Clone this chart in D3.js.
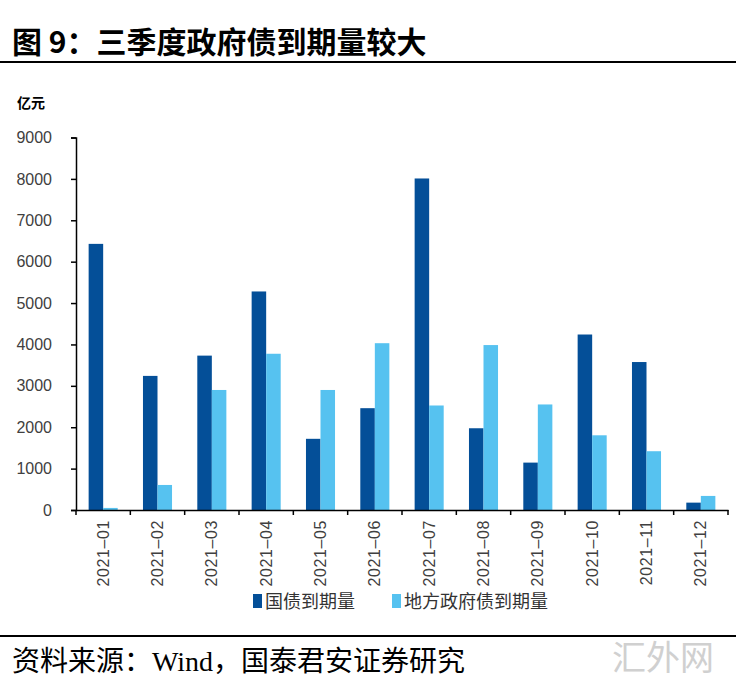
<!DOCTYPE html>
<html><head><meta charset="utf-8">
<script src="https://cdn.jsdelivr.net/npm/d3@7"></script>
<style>
body{margin:0;background:#fff;}
svg{display:block;}
</style></head>
<body>
<svg id="chart" width="740" height="688"></svg>
<script>
const months = ["2021-01","2021-02","2021-03","2021-04","2021-05","2021-06","2021-07","2021-08","2021-09","2021-10","2021-11","2021-12"];
const seriesNames = ["国债到期量","地方政府债到期量"];
const treasury = [6430, 3240, 3730, 5280, 1720, 2460, 8010, 1975, 1145, 4240, 3575, 178];
const localGov = [50, 605, 2900, 3775, 2900, 4030, 2525, 3985, 2550, 1805, 1420, 340];
const yTicks = [0,1000,2000,3000,4000,5000,6000,7000,8000,9000];
const colors = ["#044f98", "#56c2f0"];

const svg = d3.select("#chart");
const cjk = "'Noto Sans CJK SC', sans-serif";

// title
svg.append("text").attr("x", 12).attr("y", 53)
  .style("font-family", cjk).style("font-weight", "bold").style("font-size", "30px").attr("fill", "#000")
  .text("图 9：三季度政府债到期量较大");
svg.append("line").attr("x1", 0).attr("x2", 736).attr("y1", 62).attr("y2", 62)
  .attr("stroke", "#000").attr("stroke-width", 2);

// unit
svg.append("text").attr("x", 17).attr("y", 108)
  .style("font-family", cjk).style("font-weight", "bold").style("font-size", "14px").text("亿元");

const x0 = 76, x1 = 728, yTop = 137.5, yBase = 510;
const x = d3.scaleBand().domain(months).range([x0, x1]).paddingInner(0).paddingOuter(0);
const xs = d3.scaleBand().domain([0,1]).range([0, x.bandwidth()]).paddingInner(0).paddingOuter(0.87);
const y = d3.scaleLinear().domain([0, 9000]).range([yBase, yTop]);

const data = [treasury, localGov];
data.forEach((vals, si) => {
  svg.append("g").selectAll("rect").data(vals).join("rect")
    .attr("x", (d,i) => x(months[i]) + xs(si))
    .attr("width", xs.bandwidth())
    .attr("y", d => y(d))
    .attr("height", d => yBase - y(d))
    .attr("fill", colors[si]);
});

// y axis
const yAxis = svg.append("g").attr("transform", `translate(${x0},0)`)
  .call(d3.axisLeft(y).tickValues(yTicks).tickSize(5).tickPadding(19).tickFormat(d3.format("d")));
yAxis.select(".domain").attr("stroke", "#000").attr("stroke-width", 1.5);
yAxis.selectAll(".tick line").attr("stroke", "#000").attr("stroke-width", 1.5);
yAxis.selectAll("text").style("font-family", "Arial, 'Liberation Sans', sans-serif").style("font-size", "16px").attr("fill", "#404040");

// x axis
const xAxis = svg.append("g").attr("transform", `translate(0,${yBase})`)
  .call(d3.axisBottom(x).tickSize(0).tickPadding(0).tickSizeOuter(0).tickFormat(d => d.replace("-", "\u2013")));
xAxis.select(".domain").attr("stroke", "#000").attr("stroke-width", 1.5);
xAxis.selectAll(".tick text")
  .attr("transform", "translate(0,10) rotate(-90)")
  .attr("text-anchor", "end").attr("dy", "0.35em").attr("x", 0).attr("y", 0)
  .style("font-family", "Arial, 'Liberation Sans', sans-serif").style("font-size", "16px")
  .style("letter-spacing", "0.6px").attr("fill", "#404040");
// boundary ticks
const bounds = months.map(m => x(m)).concat([x1]);
svg.append("g").selectAll("line").data(bounds).join("line")
  .attr("x1", d => d).attr("x2", d => d).attr("y1", yBase).attr("y2", yBase + 5)
  .attr("stroke", "#000").attr("stroke-width", 1.5);

// legend
const legendX = [253, 392];
seriesNames.forEach((name, i) => {
  svg.append("rect").attr("x", legendX[i]).attr("y", 594).attr("width", 9).attr("height", 14).attr("fill", colors[i]);
  svg.append("text").attr("x", legendX[i] + 12).attr("y", 608)
    .style("font-family", cjk).style("font-size", "18px").attr("fill", "#333").text(name);
});

// footer
svg.append("line").attr("x1", 0).attr("x2", 736).attr("y1", 636).attr("y2", 636)
  .attr("stroke", "#000").attr("stroke-width", 2);
svg.append("text").attr("x", 12).attr("y", 671)
  .style("font-family", "'Liberation Serif', " + cjk).style("font-size", "28px").attr("fill", "#000")
  .text("资料来源：Wind，国泰君安证券研究");
svg.append("text").attr("x", 612).attr("y", 670)
  .style("font-family", cjk).style("font-size", "34px").attr("fill", "#d0d0d0")
  .text("汇外网");
</script>
</body></html>
